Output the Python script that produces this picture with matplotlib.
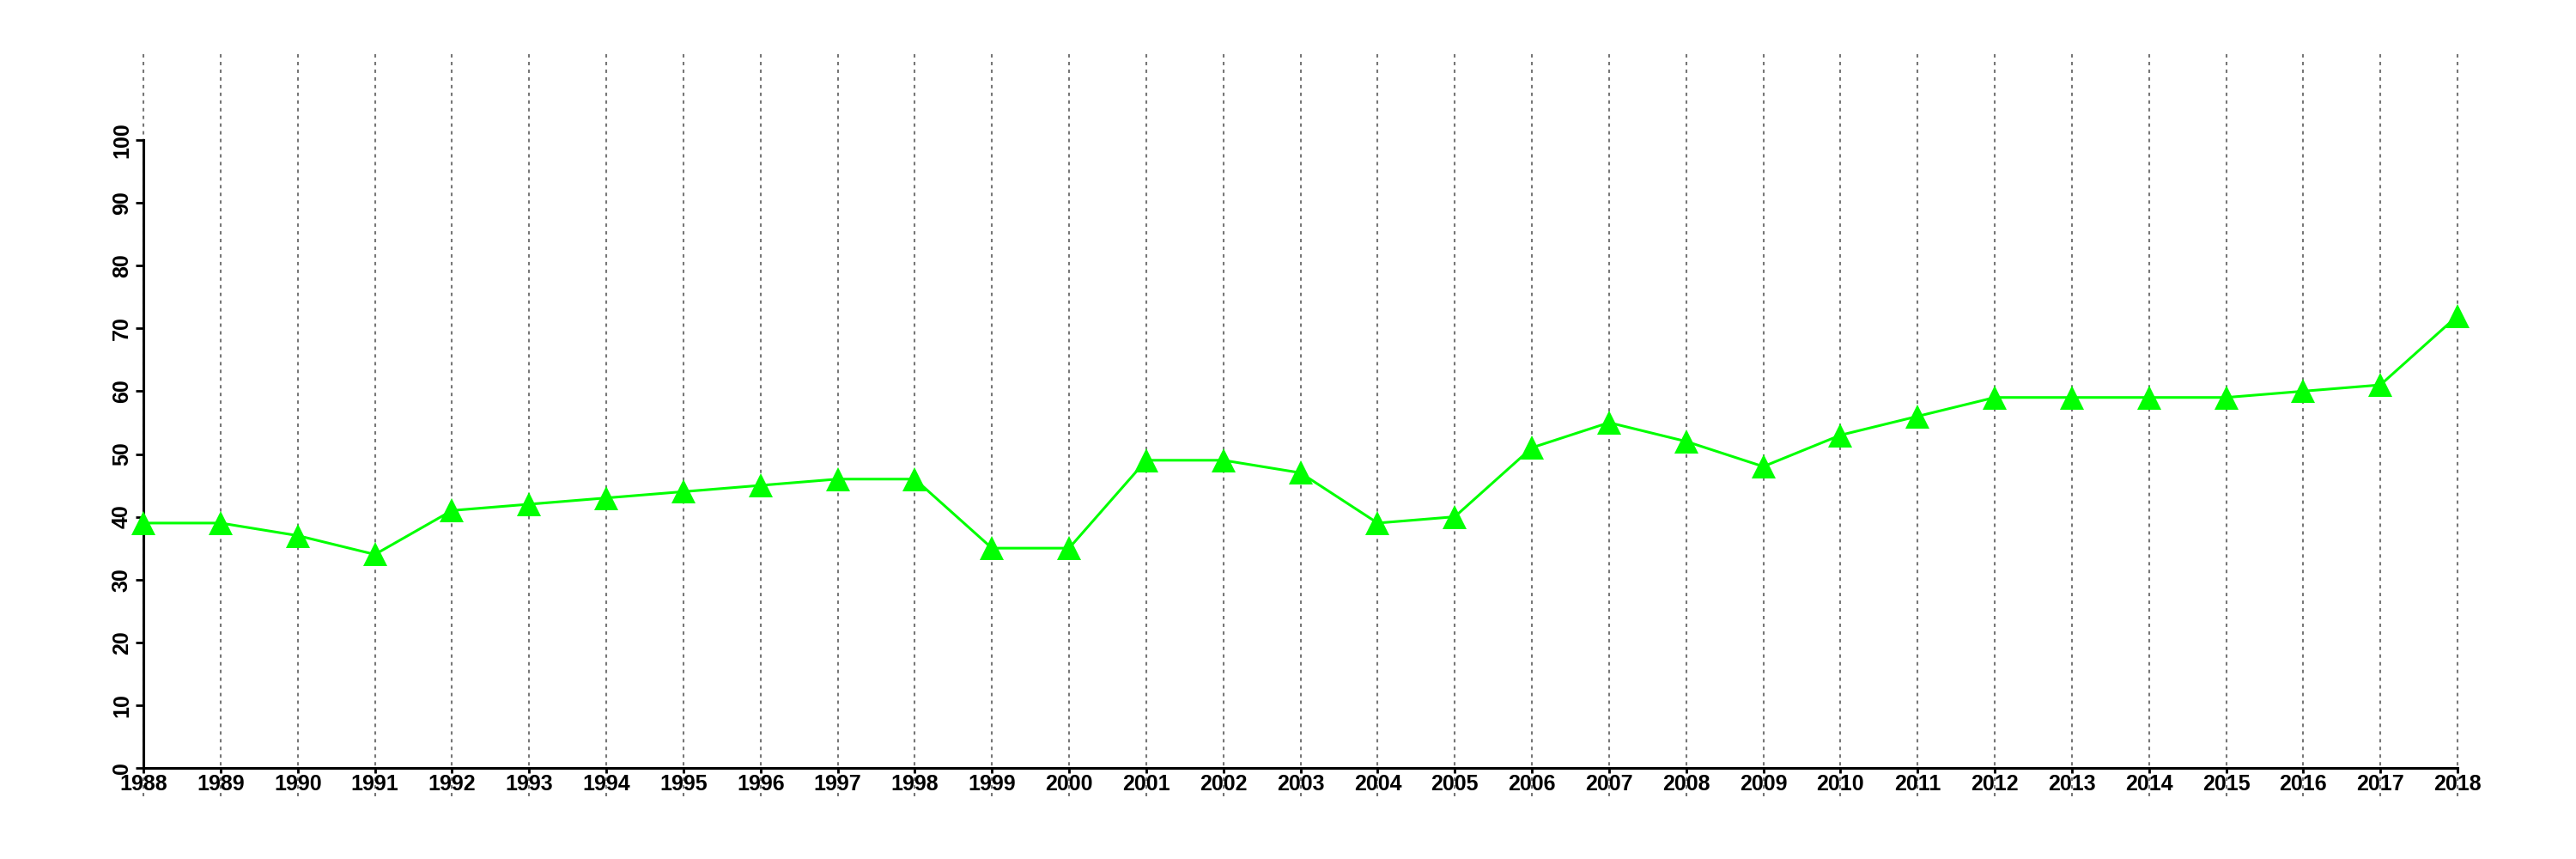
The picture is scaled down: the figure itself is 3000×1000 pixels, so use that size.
import matplotlib
matplotlib.use("Agg")
import matplotlib.pyplot as plt
import numpy as np

years = list(range(1988, 2019))
values = [39, 39, 37, 34, 41, 42, 43, 44, 45, 46, 46, 35, 35, 49, 49, 47, 39, 40,
          51, 55, 52, 48, 53, 56, 59, 59, 59, 59, 60, 61, 72]
y_ticks = list(range(0, 101, 10))

plt.rcParams['font.family'] = ['Liberation Sans', 'DejaVu Sans']

fig = plt.figure(figsize=(30, 10), dpi=100)
ax = fig.add_axes([0.0557, 0.106, 0.954 - 0.0557, 0.837 - 0.106])

# vertical dotted grid lines extending beyond the axes
for yr in years:
    ax.plot([yr, yr], [-4.5, 114.1], color='#777777', linestyle=(0, (1.9, 2.4)),
            linewidth=1.5, clip_on=False, zorder=1)

ax.plot(years, values, color='#00FF00', linewidth=2.2, marker='^',
        markersize=20, markeredgewidth=0, zorder=3, clip_on=False)

ax.set_xlim(1988, 2018)
ax.set_ylim(0, 100)
ax.set_xticks(years)
ax.set_xticklabels([str(y) for y in years])
ax.set_yticks(y_ticks)
ax.set_yticklabels([str(v) for v in y_ticks], rotation=90, va='center')

for s in ['top', 'right']:
    ax.spines[s].set_visible(False)
for s in ['left', 'bottom']:
    ax.spines[s].set_linewidth(2.2)
    ax.spines[s].set_color('black')

ax.tick_params(axis='x', length=4.5, width=2, pad=0.5, labelsize=18)
ax.tick_params(axis='y', length=6.5, width=2, pad=3, labelsize=18)
for lab in ax.get_xticklabels() + ax.get_yticklabels():
    lab.set_fontweight('bold')

fig.savefig('out.png', dpi=100, facecolor='white')
